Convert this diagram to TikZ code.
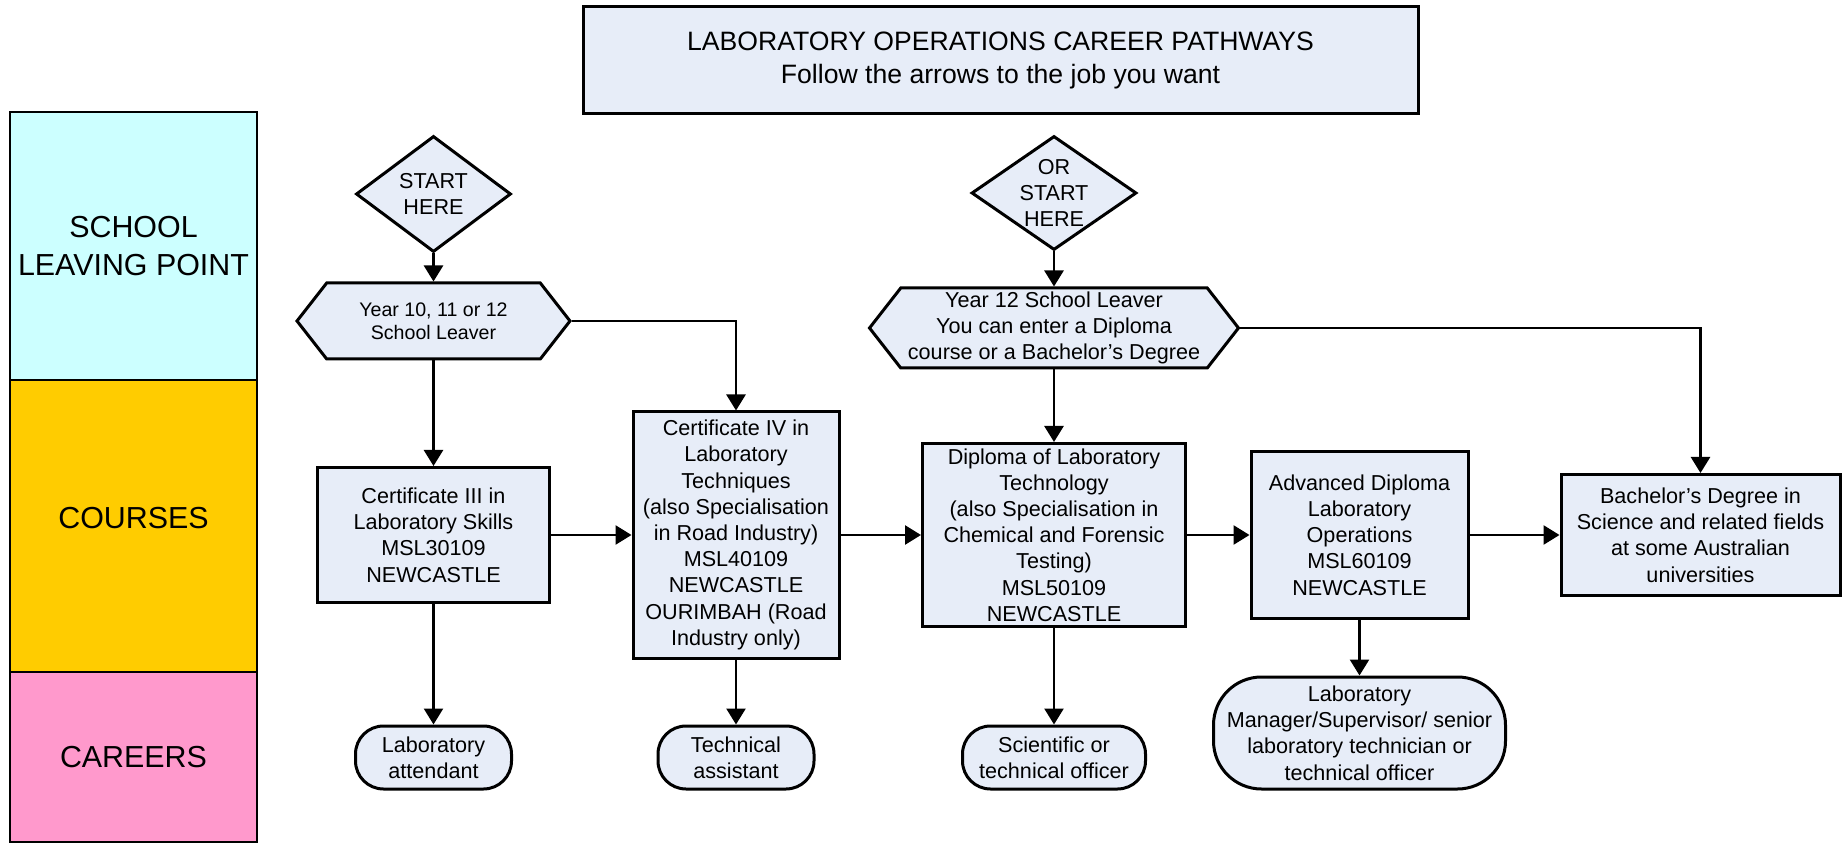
\documentclass[tikz,border=0pt]{standalone}
\usepackage{fontspec}
\setmainfont{Liberation Sans}
\usetikzlibrary{arrows.meta,shapes.geometric,shapes.symbols}
\definecolor{boxfill}{RGB}{231,237,248}
\definecolor{leavecyan}{RGB}{204,255,255}
\definecolor{courseorange}{RGB}{255,204,0}
\definecolor{careerpink}{RGB}{255,153,204}

\begin{document}
\begin{tikzpicture}[
    x=0.5pt, y=-0.5pt,
    every node/.style={font=\fontsize{10.8}{13.1}\selectfont, align=center, inner sep=0pt},
    band/.style={rectangle, draw, line width=1.4pt, minimum width=123.5pt, font=\fontsize{15.2}{18.8}\selectfont},
    course/.style={rectangle, draw, line width=1.5pt, fill=boxfill},
    career/.style={rectangle, rounded corners=14pt, draw, line width=1.5pt, fill=boxfill},
    leaver/.style={signal, signal to=east and west, signal pointer angle=104, draw, line width=1.5pt, fill=boxfill},
    startdia/.style={diamond, draw, line width=1.5pt, fill=boxfill},
    arr/.style={line width=1.3pt, -{Triangle[length=8pt,width=9.5pt]}},
]
\useasboundingbox (0,0) rectangle (1842,844);

% Title box
\node[course, minimum width=417.5pt, minimum height=53.5pt, font=\fontsize{13.3}{16.2}\selectfont] (title) at (1000.5,60.5)
    {LABORATORY OPERATIONS CAREER PATHWAYS\\Follow the arrows to the job you want};

% Row labels on the left
\node[band, fill=leavecyan, minimum height=134pt] (leaving) at (133.5,246) {SCHOOL\\LEAVING POINT};
\node[band, fill=courseorange, minimum height=146pt, text depth=8pt] (courses) at (133.5,526) {COURSES};
\node[band, fill=careerpink, minimum height=85pt] (careers) at (133.5,757) {CAREERS};

% Start points
\node[startdia, minimum width=77.5pt, minimum height=58pt] (start1) at (433.5,194) {};
\node (start1txt) at (start1) {START\\HERE};
\node[startdia, minimum width=82.5pt, minimum height=57pt] (start2) at (1054,193) {};
\node (start2txt) at (start2) {OR\\START\\HERE};

% School leavers
\node[leaver, minimum width=136.5pt, minimum height=38pt, font=\fontsize{9.8}{11.4}\selectfont] (leave1) at (433.5,321)
    {Year 10, 11 or 12\\School Leaver};
\node[leaver, minimum width=184.5pt, minimum height=40pt] (leave2) at (1054,328)
    {Year 12 School Leaver\\You can enter a Diploma\\course or a Bachelor’s Degree};

% Courses
\node[course, minimum width=116pt, minimum height=67.5pt] (cert3) at (433.5,535)
    {Certificate III in\\Laboratory Skills\\MSL30109\\NEWCASTLE};
\node[course, minimum width=103pt, minimum height=123pt] (cert4) at (736,535)
    {Certificate IV in\\Laboratory\\Techniques\\(also Specialisation\\in Road Industry)\\MSL40109\\NEWCASTLE\\OURIMBAH (Road\\Industry only)};
\node[course, minimum width=131.5pt, minimum height=91.5pt] (dipl) at (1054,535)
    {Diploma of Laboratory\\Technology\\(also Specialisation in\\Chemical and Forensic\\Testing)\\MSL50109\\NEWCASTLE};
\node[course, minimum width=108.5pt, minimum height=83pt] (adv) at (1359.5,535)
    {Advanced Diploma\\Laboratory\\Operations\\MSL60109\\NEWCASTLE};
\node[course, minimum width=139.5pt, minimum height=60.5pt] (bach) at (1700.5,535)
    {Bachelor’s Degree in\\Science and related fields\\at some Australian\\universities};

% Careers
\node[career, minimum width=78pt, minimum height=31.5pt] (attend) at (433.5,757.5) {Laboratory\\attendant};
\node[career, minimum width=78pt, minimum height=31.5pt] (techasst) at (736,757.5) {Technical\\assistant};
\node[career, minimum width=91.5pt, minimum height=31.5pt] (sciofficer) at (1054,757.5) {Scientific or\\technical officer};
\node[career, rounded corners=24pt, minimum width=146pt, minimum height=56pt] (manager) at (1359.5,733)
    {Laboratory\\Manager/Supervisor/ senior\\laboratory technician or\\technical officer};

% Arrows
\draw[arr] (start1.south) -- (leave1.north);
\draw[arr] (leave1.south) -- (cert3.north);
\draw[arr] (leave1.east) -| (cert4.north);
\draw[arr] (start2.south) -- (leave2.north);
\draw[arr] (leave2.south) -- (dipl.north);
\draw[arr] (leave2.east) -| (bach.north);

\draw[arr] (cert3.east) -- (cert4.west);
\draw[arr] (cert4.east) -- (dipl.west);
\draw[arr] (dipl.east) -- (adv.west);
\draw[arr] (adv.east) -- (bach.west);

\draw[arr] (cert3.south) -- (attend.north);
\draw[arr] (cert4.south) -- (techasst.north);
\draw[arr] (dipl.south) -- (sciofficer.north);
\draw[arr] (adv.south) -- (manager.north);

\end{tikzpicture}
\end{document}
